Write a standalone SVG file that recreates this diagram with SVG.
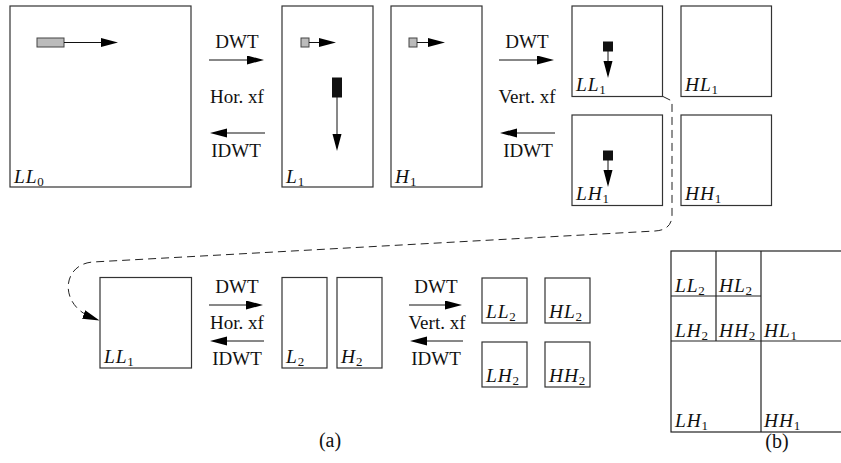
<svg xmlns="http://www.w3.org/2000/svg" width="841" height="463" viewBox="0 0 841 463">
  <style>
    .box { fill: #fff; stroke: #333; stroke-width: 1.2; }
    .grid { fill: none; stroke: #222; stroke-width: 1.2; }
    .arr { stroke: #111; stroke-width: 1; fill: none; marker-end: url(#head); }
    .lbl { font-family: "Liberation Serif", "DejaVu Serif", serif; font-size: 19px; fill: #111; text-anchor: middle; }
    .cap { font-family: "Liberation Serif", "DejaVu Serif", serif; font-size: 20px; fill: #111; text-anchor: middle; }
    .m { font-family: "Liberation Serif", "DejaVu Serif", serif; font-size: 19.5px; font-style: italic; fill: #111; letter-spacing: 0.8px; }
    .sub { font-style: normal; font-size: 13px; letter-spacing: 0; }
    .gray { fill: #bbb; stroke: #444; stroke-width: 1; }
    .blk { fill: #111; stroke: #111; stroke-width: 1; }
    .dash { fill: none; stroke: #222; stroke-width: 1; stroke-dasharray: 8 5; marker-end: url(#head); }
  </style>
  <defs>
    <marker id="head" markerUnits="userSpaceOnUse" markerWidth="18" markerHeight="10" refX="10" refY="4.5" orient="auto">
      <path d="M0,0 L17,4.5 L0,9 z" fill="#000"/>
    </marker>
  </defs>

  <!-- first level: horizontal transform -->
  <g id="LL0">
    <rect class="box" x="10" y="6" width="181" height="181"/>
    <rect class="gray" x="37" y="38" width="27" height="9"/>
    <line class="arr" x1="64" y1="42.5" x2="111" y2="42.5"/>
    <text class="m" x="14" y="183">LL<tspan class="sub" dy="3">0</tspan></text>
  </g>

  <g id="L1">
    <rect class="box" x="282" y="6" width="91" height="181"/>
    <rect class="gray" x="301" y="38" width="8" height="9"/>
    <line class="arr" x1="309" y1="42.5" x2="329" y2="42.5"/>
    <rect class="blk" x="332.5" y="78" width="9" height="19"/>
    <line class="arr" x1="337" y1="97" x2="337" y2="144"/>
    <text class="m" x="286" y="183">L<tspan class="sub" dy="3">1</tspan></text>
  </g>

  <g id="H1">
    <rect class="box" x="391" y="6" width="91" height="181"/>
    <rect class="gray" x="409" y="38" width="8" height="9"/>
    <line class="arr" x1="417" y1="42.5" x2="438" y2="42.5"/>
    <text class="m" x="395" y="183">H<tspan class="sub" dy="3">1</tspan></text>
  </g>

  <!-- first level: vertical transform -->
  <g id="LL1">
    <rect class="box" x="572" y="6" width="90.5" height="90.5"/>
    <rect class="blk" x="603.5" y="42" width="9" height="9"/>
    <line class="arr" x1="608" y1="51" x2="608" y2="71"/>
    <text class="m" x="576" y="91">LL<tspan class="sub" dy="3">1</tspan></text>
  </g>
  <g id="HL1">
    <rect class="box" x="681" y="6" width="90.5" height="90.5"/>
    <text class="m" x="685" y="91">HL<tspan class="sub" dy="3">1</tspan></text>
  </g>
  <g id="LH1">
    <rect class="box" x="572" y="115" width="90.5" height="90.5"/>
    <rect class="blk" x="603.5" y="151" width="9" height="9"/>
    <line class="arr" x1="608" y1="160" x2="608" y2="180"/>
    <text class="m" x="576" y="200">LH<tspan class="sub" dy="3">1</tspan></text>
  </g>
  <g id="HH1">
    <rect class="box" x="681" y="115" width="90.5" height="90.5"/>
    <text class="m" x="685" y="200">HH<tspan class="sub" dy="3">1</tspan></text>
  </g>

  <!-- second level -->
  <g id="LL1b">
    <rect class="box" x="100" y="277.5" width="91.5" height="90.5"/>
    <text class="m" x="104" y="363">LL<tspan class="sub" dy="3">1</tspan></text>
  </g>
  <g id="L2">
    <rect class="box" x="282" y="277.5" width="45" height="90.5"/>
    <text class="m" x="286" y="363">L<tspan class="sub" dy="3">2</tspan></text>
  </g>
  <g id="H2">
    <rect class="box" x="337" y="277.5" width="45" height="90.5"/>
    <text class="m" x="341" y="363">H<tspan class="sub" dy="3">2</tspan></text>
  </g>
  <g id="LL2">
    <rect class="box" x="482" y="278" width="45" height="45"/>
    <text class="m" x="486" y="318">LL<tspan class="sub" dy="3">2</tspan></text>
  </g>
  <g id="HL2">
    <rect class="box" x="545" y="278" width="45" height="45"/>
    <text class="m" x="549" y="318">HL<tspan class="sub" dy="3">2</tspan></text>
  </g>
  <g id="LH2">
    <rect class="box" x="482" y="342" width="45" height="45"/>
    <text class="m" x="486" y="382">LH<tspan class="sub" dy="3">2</tspan></text>
  </g>
  <g id="HH2">
    <rect class="box" x="545" y="342" width="45" height="45"/>
    <text class="m" x="549" y="382">HH<tspan class="sub" dy="3">2</tspan></text>
  </g>

  <!-- transform arrows and the hand-off from LL1 down to the second level -->
  <g id="connectors">
    <line class="arr" x1="209" y1="60" x2="257" y2="60"/>
    <line class="arr" x1="265" y1="133" x2="217" y2="133"/>
    <line class="arr" x1="499" y1="60" x2="547" y2="60"/>
    <line class="arr" x1="555" y1="133" x2="507" y2="133"/>
    <line class="arr" x1="209" y1="305" x2="256" y2="305"/>
    <line class="arr" x1="264" y1="341" x2="217" y2="341"/>
    <line class="arr" x1="409" y1="305" x2="455" y2="305"/>
    <line class="arr" x1="463" y1="341" x2="417" y2="341"/>
    <path class="dash" d="M663,96.5 L672,101 L672,215 Q672,230 655,231 L93,262 C62,264 58,305 93,318"/>
  </g>

  <g id="labels">
    <text class="lbl" x="237" y="48">DWT</text>
    <text class="lbl" x="237" y="103">Hor. xf</text>
    <text class="lbl" x="236" y="157">IDWT</text>
    <text class="lbl" x="527" y="48">DWT</text>
    <text class="lbl" x="527" y="103">Vert. xf</text>
    <text class="lbl" x="528" y="157">IDWT</text>
    <text class="lbl" x="237" y="293">DWT</text>
    <text class="lbl" x="237" y="329">Hor. xf</text>
    <text class="lbl" x="237" y="365">IDWT</text>
    <text class="lbl" x="436" y="293">DWT</text>
    <text class="lbl" x="437" y="329">Vert. xf</text>
    <text class="lbl" x="436" y="365">IDWT</text>
    <text class="cap" x="330" y="447">(a)</text>
    <text class="cap" x="777" y="448">(b)</text>
  </g>

  <!-- (b) two-level subband layout -->
  <g id="layout">
    <rect class="grid" x="671" y="251" width="180" height="181"/>
    <line class="grid" x1="761" y1="251" x2="761" y2="432"/>
    <line class="grid" x1="671" y1="341" x2="851" y2="341"/>
    <line class="grid" x1="716" y1="251" x2="716" y2="341"/>
    <line class="grid" x1="671" y1="296" x2="761" y2="296"/>
    <text class="m" x="675" y="292">LL<tspan class="sub" dy="3">2</tspan></text>
    <text class="m" x="719" y="292">HL<tspan class="sub" dy="3">2</tspan></text>
    <text class="m" x="675" y="337">LH<tspan class="sub" dy="3">2</tspan></text>
    <text class="m" x="719" y="337">HH<tspan class="sub" dy="3">2</tspan></text>
    <text class="m" x="764" y="337">HL<tspan class="sub" dy="3">1</tspan></text>
    <text class="m" x="675" y="427">LH<tspan class="sub" dy="3">1</tspan></text>
    <text class="m" x="764" y="427">HH<tspan class="sub" dy="3">1</tspan></text>
  </g>
</svg>
